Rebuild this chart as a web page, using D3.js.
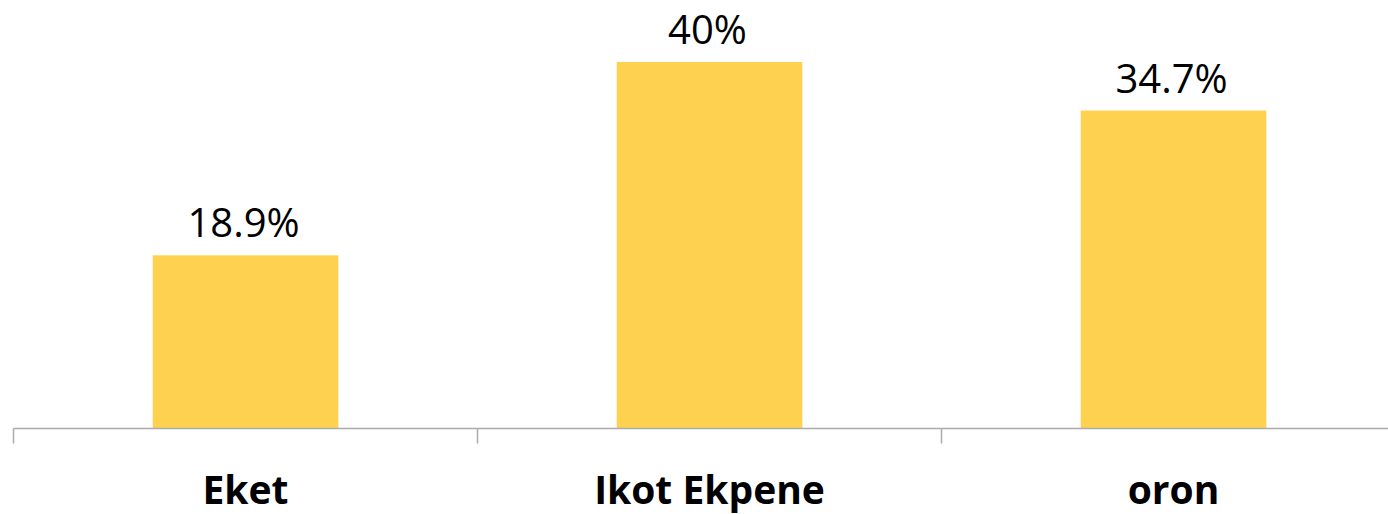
<!DOCTYPE html>
<html><head><meta charset="utf-8">
<script src="https://cdn.jsdelivr.net/npm/d3@7"></script>
<style>html,body{margin:0;padding:0;background:#fff;}svg{display:block;}</style>
</head><body>
<svg id="chart" width="1388" height="514"></svg>
<script>
const categories = ["Eket", "Ikot Ekpene", "oron"];
const values = [18.9, 40, 34.7];
const valueLabels = ["18.9%", "40%", "34.7%"];

const W = 1388, H = 514;
const margin = {left: 13.5, right: 0, top: 0, bottom: 0};
const baseline = 428.5;
const svg = d3.select("#chart");

const x = d3.scaleBand().domain(categories).range([margin.left, margin.left + 464 * 3]).paddingInner(0).paddingOuter(0);
const y = d3.scaleLinear().domain([0, 40]).range([baseline, 62]);
const barW = x.bandwidth() * 0.4;

svg.selectAll("rect.bar").data(values).enter().append("rect")
  .attr("class", "bar")
  .attr("x", (d, i) => x(categories[i]) + (x.bandwidth() - barW) / 2)
  .attr("y", d => y(d))
  .attr("width", barW)
  .attr("height", d => baseline - y(d))
  .attr("fill", "#FED250");

// axis
const axisG = svg.append("g");
axisG.append("line").attr("x1", margin.left).attr("x2", W).attr("y1", baseline).attr("y2", baseline)
  .attr("stroke", "#ABABAB").attr("stroke-width", 1.5);
categories.forEach(c => {
  axisG.append("line").attr("x1", x(c)).attr("x2", x(c)).attr("y1", baseline).attr("y2", baseline + 15)
    .attr("stroke", "#ABABAB").attr("stroke-width", 1.5);
});

svg.selectAll("text.cat").data(categories).enter().append("text")
  .attr("class", "cat")
  .attr("x", d => x(d) + x.bandwidth() / 2)
  .attr("y", 504)
  .attr("text-anchor", "middle")
  .attr("font-family", "'Open Sans', sans-serif")
  .attr("font-weight", "bold")
  .attr("font-size", 39)
  .attr("fill", "#000")
  .text(d => d);

svg.selectAll("text.val").data(values).enter().append("text")
  .attr("class", "val")
  .attr("x", (d, i) => x(categories[i]) + x.bandwidth() / 2 - 2)
  .attr("y", d => y(d) - 18)
  .attr("text-anchor", "middle")
  .attr("font-family", "'Open Sans', sans-serif")
  .attr("font-size", 40)
  .attr("fill", "#000")
  .text((d, i) => valueLabels[i]);
</script>
</body></html>
